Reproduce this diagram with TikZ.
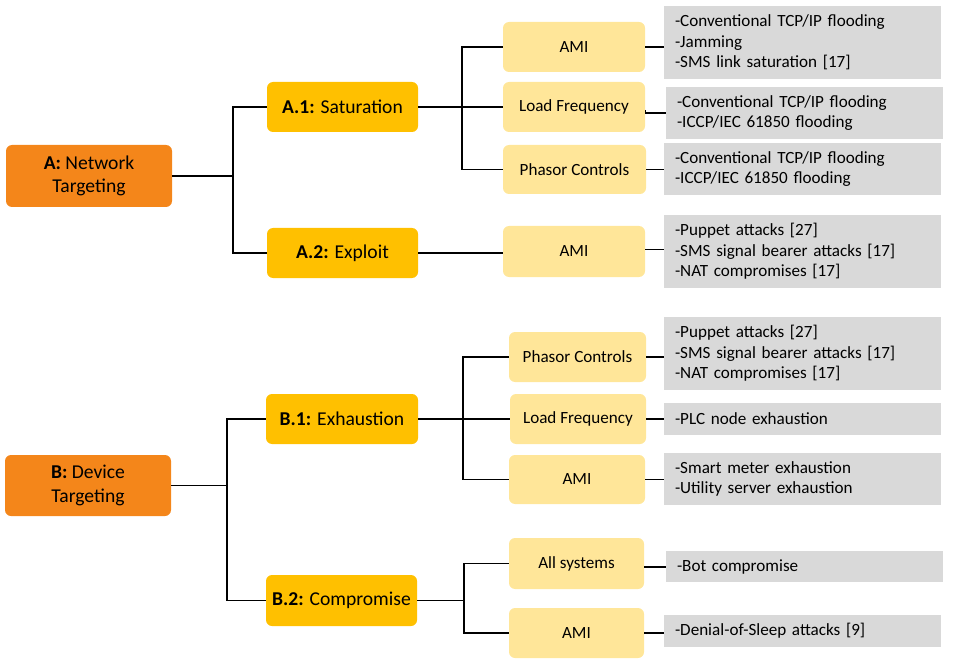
\documentclass[tikz,border=0pt]{standalone}
\usepackage{fontspec}
\setmainfont{Carlito}
\definecolor{orA}{HTML}{F4861A}
\definecolor{goldB}{HTML}{FFC000}
\definecolor{lightC}{HTML}{FFE699}
\definecolor{grayD}{HTML}{D9D9D9}
\tikzset{
  topbox/.style={draw=none,fill=orA,rounded corners=6pt,align=center,inner sep=0pt,
    font=\fontsize{19.6}{23.5}\selectfont},
  midbox/.style={draw=none,fill=goldB,rounded corners=6pt,align=center,inner sep=0pt,
    font=\fontsize{19.6}{23.5}\selectfont},
  subbox/.style={draw=none,fill=lightC,rounded corners=6pt,align=center,inner sep=0pt,
    font=\fontsize{17.1}{20.5}\selectfont},
  leafbox/.style={draw=none,fill=grayD,rectangle,inner xsep=11pt,inner ysep=0pt,
    minimum width=277pt,text width=255pt,align=left,
    font=\fontsize{17.1}{20.5}\selectfont},
  conn/.style={draw=black,line width=1.1pt}
}
\begin{document}
\begin{tikzpicture}[x=1pt,y=-1pt]
\useasboundingbox (0,0) rectangle (954,666);
% level 1
\node[topbox,minimum width=166pt,minimum height=62pt] (A) at (89,176) {\textbf{A:} Network\\Targeting};
\node[topbox,minimum width=166pt,minimum height=61pt] (B) at (88,485.5) {\textbf{B:} Device\\Targeting};
% level 2
\node[midbox,minimum width=151pt,minimum height=50pt] (A1) at (342.5,107) {\textbf{A.1:} Saturation};
\node[midbox,minimum width=151pt,minimum height=50pt] (A2) at (342.5,253) {\textbf{A.2:} Exploit};
\node[midbox,minimum width=152pt,minimum height=50pt] (B1) at (342,419) {\textbf{B.1:} Exhaustion};
\node[midbox,minimum width=151pt,minimum height=51pt] (B2) at (341.5,600.5) {\textbf{B.2:} Compromise};
% level 3
\node[subbox,minimum width=142pt,minimum height=50pt] (AMI1) at (574,47) {AMI};
\node[subbox,minimum width=142pt,minimum height=50pt] (LF1) at (574,107) {Load Frequency};
\node[subbox,minimum width=143pt,minimum height=49pt] (PC1) at (574.5,169.5) {Phasor Controls};
\node[subbox,minimum width=142pt,minimum height=51pt] (AMI2) at (574,251.5) {AMI};
\node[subbox,minimum width=137pt,minimum height=50pt] (PC2) at (577.5,357) {Phasor Controls};
\node[subbox,minimum width=136pt,minimum height=50pt] (LF2) at (578,419) {Load Frequency};
\node[subbox,minimum width=136pt,minimum height=49pt] (AMI3) at (577,479.5) {AMI};
\node[subbox,minimum width=135pt,minimum height=51pt] (AS) at (576.5,563.5) {All systems};
\node[subbox,minimum width=135pt,minimum height=50pt] (AMI4) at (576.5,633) {AMI};
% leaves
\node[leafbox,minimum height=73pt] (G1) at (802.5,42.5) {-Conventional TCP/IP flooding\\-Jamming\\-SMS link saturation [17]};
\node[leafbox,minimum height=52pt] (G2) at (804.5,113) {-Conventional TCP/IP flooding\\-ICCP/IEC 61850 flooding};
\node[leafbox,minimum height=52pt] (G3) at (802.5,169) {-Conventional TCP/IP flooding\\-ICCP/IEC 61850 flooding};
\node[leafbox,minimum height=73pt] (G4) at (802.5,251.5) {-Puppet attacks [27]\\-SMS signal bearer attacks [17]\\-NAT compromises [17]};
\node[leafbox,minimum height=73pt] (H1) at (802.5,353.5) {-Puppet attacks [27]\\-SMS signal bearer attacks [17]\\-NAT compromises [17]};
\node[leafbox,minimum height=32pt] (H2) at (802.5,419) {-PLC node exhaustion};
\node[leafbox,minimum height=52pt] (H3) at (802.5,479) {-Smart meter exhaustion\\-Utility server exhaustion};
\node[leafbox,minimum height=31pt] (H4) at (804.5,566.5) {-Bot compromise};
\node[leafbox,minimum height=32pt] (H5) at (802.5,631) {-Denial-of-Sleep attacks [9]};
% tree connectors
\draw[conn] (A.east) -- (A.east -| 233,0) coordinate (jA);
\draw[conn] (jA) |- (A1.west);
\draw[conn] (jA) |- (A2.west);
\draw[conn] (B.east) -- (B.east -| 227,0) coordinate (jB);
\draw[conn] (jB) |- (B1.west);
\draw[conn] (jB) |- (B2.west);
\draw[conn] (A1.east) -- (A1.east -| 462,0) coordinate (jA1);
\draw[conn] (jA1) |- (AMI1.west);
\draw[conn] (jA1) |- (LF1.west);
\draw[conn] (jA1) |- (PC1.west);
\draw[conn] (A2.east) -- (A2.east -| AMI2.west);
\draw[conn] (B1.east) -- (B1.east -| 463,0) coordinate (jB1);
\draw[conn] (jB1) |- (PC2.west);
\draw[conn] (jB1) |- (LF2.west);
\draw[conn] (jB1) |- (AMI3.west);
\draw[conn] (B2.east) -- (B2.east -| 464,0) coordinate (jB2);
\draw[conn] (jB2) |- (AS.west);
\draw[conn] (jB2) |- (AMI4.west);
% to leaves
\draw[conn] (AMI1.east) -- (AMI1.east -| G1.west);
\draw[conn] (LF1.east) ++(0,3) -- (LF1.east |- G2.west) -- (G2.west);
\draw[conn] (PC1.east) -- (PC1.east -| G3.west);
\draw[conn] (AMI2.east) ++(0,-2) coordinate (a2) -- (a2 -| G4.west);
\draw[conn] (PC2.east) -- (PC2.east -| H1.west);
\draw[conn] (LF2.east) -- (LF2.east -| H2.west);
\draw[conn] (AMI3.east) -- (AMI3.east -| H3.west);
\draw[conn] (AS.east) ++(0,3.5) coordinate (as2) -- (as2 -| H4.west);
\draw[conn] (AMI4.east) -- (AMI4.east -| H5.west);
\end{tikzpicture}
\end{document}
